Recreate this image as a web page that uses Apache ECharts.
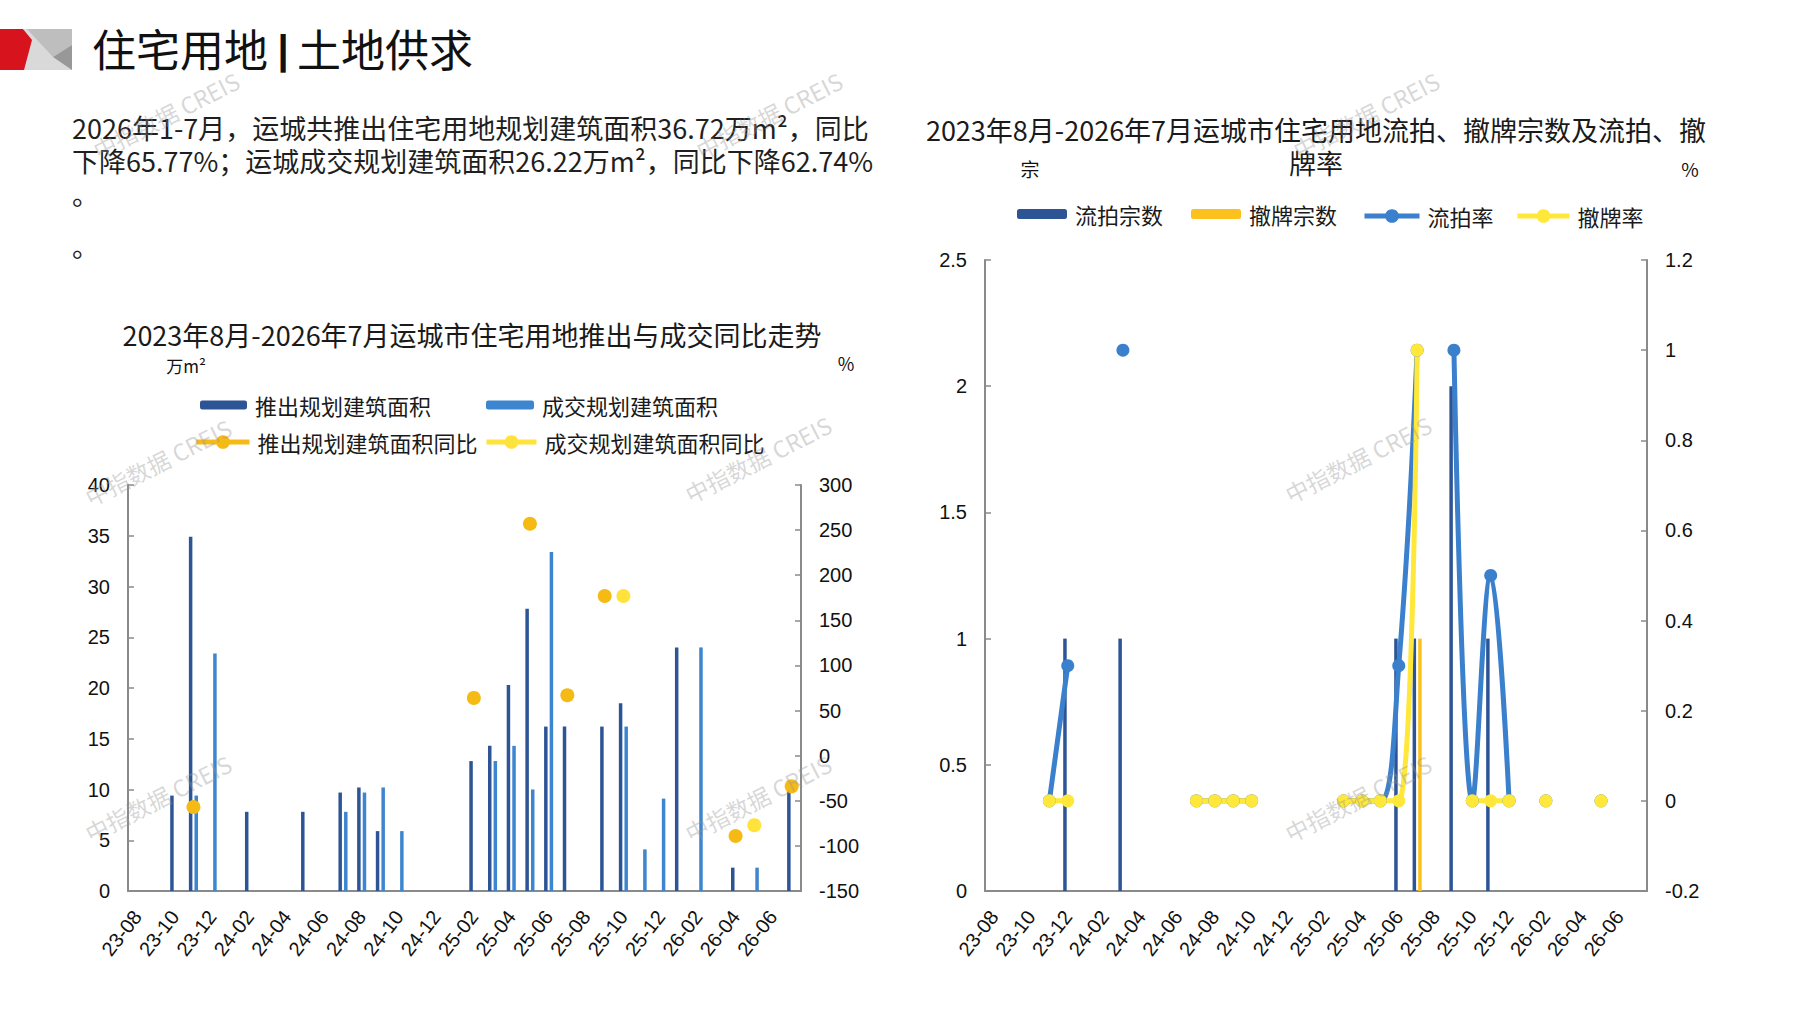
<!DOCTYPE html>
<html><head><meta charset="utf-8">
<script src="https://cdn.jsdelivr.net/npm/echarts@6/dist/echarts.min.js"></script>
<style>html,body{margin:0;padding:0;background:#fff}#c{width:1797px;height:1010px}</style>
</head><body><div id="c"></div>
<script>
const months = ['23-08','23-09','23-10','23-11','23-12','24-01','24-02','24-03','24-04','24-05','24-06','24-07',
  '24-08','24-09','24-10','24-11','24-12','25-01','25-02','25-03','25-04','25-05','25-06','25-07',
  '25-08','25-09','25-10','25-11','25-12','26-01','26-02','26-03','26-04','26-05','26-06','26-07'];
// 左图：推出/成交规划建筑面积（万m²）
const launchArea = [null,null,9.4,34.9,null,null,7.8,null,null,7.8,null,9.7,10.2,5.9,null,null,null,null,
  12.8,14.3,20.3,27.8,16.2,16.2,null,16.2,18.5,null,null,24.0,null,null,2.3,null,null,10.0];
const dealArea = [null,null,null,9.4,23.4,null,null,null,null,null,null,7.8,9.7,10.2,5.9,null,null,null,
  null,12.8,14.3,10.0,33.4,null,null,null,16.2,4.1,9.1,null,24.0,null,null,2.3,null,null];
// 同比（%）
const launchYoY = [null,null,null,-57,null,null,null,null,null,null,null,null,null,null,null,null,null,null,
  64,null,null,257,null,67,null,177,null,null,null,null,null,null,-89,null,null,-34];
const dealYoY = [null,null,null,null,null,null,null,null,null,null,null,null,null,null,null,null,null,null,
  null,null,null,null,null,null,null,null,177,null,null,null,null,null,null,-77,null,null];
// 右图：流拍/撤牌宗数（宗）与比率
const failCount = [null,null,null,null,1,null,null,1,null,null,null,null,null,null,null,null,null,null,
  null,null,null,null,1,1,null,2,null,1,null,null,null,null,null,null,null,null];
const withdrawCount = [null,null,null,null,null,null,null,null,null,null,null,null,null,null,null,null,null,null,
  null,null,null,null,null,1,null,null,null,null,null,null,null,null,null,null,null,null];
const failRate = [null,null,null,0,0.3,null,null,1,null,null,null,0,0,0,0,null,null,null,
  null,0,0,0,0.3,1,null,1,0,0.5,0,null,0,null,null,0,null,null];
const withdrawRate = [null,null,null,0,0,null,null,null,null,null,null,0,0,0,0,null,null,null,
  null,0,0,0,0,1,null,null,0,0,0,null,0,null,null,0,null,null];
const leftTicks = {min:0,max:40,interval:5};
const leftRightTicks = {min:-150,max:300,interval:50};
const rightTicks = {min:0,max:2.5,interval:0.5};
const rightRightTicks = {min:-0.2,max:1.2,interval:0.2};

const CJK = '"Noto Sans CJK SC","Noto Sans",sans-serif';
const NUM = '"Liberation Sans",Arial,sans-serif';
const C = {dark:'#2D5596', light:'#3D86CF', orange:'#F6BA14', yellow:'#FFE23C',
  fail:'#2D5596', wd:'#FCC11C', failRate:'#3A80CC', wdRate:'#FFE83A'};

const chart = echarts.init(document.getElementById('c'), null, {renderer:'svg'});
const axLine = {lineStyle:{color:'#8a8a8a', width:2}};
const axTick = {inside:true, length:6, lineStyle:{color:'#8a8a8a', width:1.5}};
const yLabel = {color:'#111', fontSize:20, fontFamily:NUM, margin:18};
function xAxis(g){
  return {type:'category', gridIndex:g, data:months, boundaryGap:true,
    axisLine:axLine, axisTick:Object.assign({interval:0}, axTick),
    axisLabel:{interval:1, rotate:52, margin:22, color:'#111', fontSize:20, fontFamily:NUM},
    splitLine:{show:false}};
}
function yAxis(g, t, pos){
  return Object.assign({type:'value', gridIndex:g, position:pos, axisLine:Object.assign({show:true}, axLine),
    axisTick:Object.assign({show:true}, axTick), axisLabel:yLabel, splitLine:{show:false}}, t);
}
const legText = {fontSize:22, fontFamily:CJK, color:'#1a1a1a', padding:[0,0,0,3]};
function leg(name, left, top, w, h){
  return {data:[name], left:left, top:top, padding:0, itemWidth:w, itemHeight:h,
    lineStyle:{width:5}, textStyle:legText, selectedMode:false};
}
const wm = [[166,115],[769,115],[1366,115],[158,462],[758,459],[1358,459],[158,798],[758,798],[1358,798]];

chart.setOption({
  animation:false,
  backgroundColor:'#fff',
  title:[
    {text:'2023年8月-2026年7月运城市住宅用地推出与成交同比走势', left:472, top:318, textAlign:'center', padding:0,
      textStyle:{fontSize:27, fontWeight:'normal', fontFamily:CJK, color:'#1a1a1a', lineHeight:33}},
    {text:'2023年8月-2026年7月运城市住宅用地流拍、撤牌宗数及流拍、撤\n牌率', left:1316, top:113, textAlign:'center', padding:0,
      textStyle:{fontSize:27, fontWeight:'normal', fontFamily:CJK, color:'#1a1a1a', lineHeight:33}}
  ],
  legend:[
    leg('推出规划建筑面积', 200, 394, 47, 9),
    leg('成交规划建筑面积', 486, 394, 48, 9),
    leg('推出规划建筑面积同比', 194, 431, 53, 17),
    leg('成交规划建筑面积同比', 484, 431, 50, 17),
    leg('流拍宗数', 1017, 203, 50, 10),
    leg('撤牌宗数', 1191, 203, 50, 10),
    leg('流拍率', 1362, 205, 55, 17),
    leg('撤牌率', 1515, 205, 52, 17)
  ],
  grid:[
    {left:128, right:996, top:485, bottom:119},
    {left:985, right:150, top:260, bottom:119}
  ],
  xAxis:[xAxis(0), xAxis(1)],
  yAxis:[yAxis(0, leftTicks, 'left'), yAxis(0, leftRightTicks, 'right'),
         yAxis(1, rightTicks, 'left'), yAxis(1, rightRightTicks, 'right')],
  series:[
    {name:'推出规划建筑面积', type:'bar', xAxisIndex:0, yAxisIndex:0, data:launchArea, barWidth:3.5, barGap:'60%',
      itemStyle:{color:C.dark}},
    {name:'成交规划建筑面积', type:'bar', xAxisIndex:0, yAxisIndex:0, data:dealArea, barWidth:3.5, barGap:'60%',
      itemStyle:{color:C.light}},
    {name:'推出规划建筑面积同比', type:'line', xAxisIndex:0, yAxisIndex:1, data:launchYoY, symbol:'circle', symbolSize:14,
      showAllSymbol:true, connectNulls:false, itemStyle:{color:C.orange}, lineStyle:{color:C.orange, width:5}},
    {name:'成交规划建筑面积同比', type:'line', xAxisIndex:0, yAxisIndex:1, data:dealYoY, symbol:'circle', symbolSize:14,
      showAllSymbol:true, connectNulls:false, itemStyle:{color:C.yellow}, lineStyle:{color:C.yellow, width:5}},
    {name:'流拍宗数', type:'bar', xAxisIndex:1, yAxisIndex:2, data:failCount, barWidth:3.5, barGap:'60%',
      itemStyle:{color:C.fail}},
    {name:'撤牌宗数', type:'bar', xAxisIndex:1, yAxisIndex:2, data:withdrawCount, barWidth:3.5, barGap:'60%',
      itemStyle:{color:C.wd}},
    {name:'流拍率', type:'line', xAxisIndex:1, yAxisIndex:3, data:failRate, symbol:'circle', symbolSize:13,
      showAllSymbol:true, smooth:0.4, connectNulls:false, itemStyle:{color:C.failRate}, lineStyle:{color:C.failRate, width:5}},
    {name:'撤牌率', type:'line', xAxisIndex:1, yAxisIndex:3, data:withdrawRate, symbol:'circle', symbolSize:13,
      showAllSymbol:true, smooth:0.4, connectNulls:false, itemStyle:{color:C.wdRate}, lineStyle:{color:C.wdRate, width:5}}
  ],
  graphic:[
    {type:'polygon', shape:{points:[[24,29],[72,29],[72,70],[24,70]]}, style:{fill:'#D9D9D9'}},
    {type:'polygon', shape:{points:[[27,29],[72,29],[72,45],[53,57]]}, style:{fill:'#BEBEBE'}},
    {type:'polygon', shape:{points:[[53,57],[72,45],[72,70]]}, style:{fill:'#989898'}},
    {type:'polygon', shape:{points:[[0,29],[23,29],[32,40],[24,70],[0,70]]}, style:{fill:'#D7141D'}},
    {type:'text', left:92, top:26, style:{text:'住宅用地', fontSize:44, fontFamily:CJK, fill:'#111'}},
    {type:'text', x:283, y:50, style:{text:'|', fontSize:40, fontWeight:'bold', fontFamily:NUM, fill:'#111', textAlign:'center', textVerticalAlign:'middle'}},
    {type:'text', left:297, top:26, style:{text:'土地供求', fontSize:44, fontFamily:CJK, fill:'#111'}},
    {type:'text', x:72, y:111, style:{text:'2026年1-7月，运城共推出住宅用地规划建筑面积36.72万m²，同比\n下降65.77%；运城成交规划建筑面积26.22万m²，同比下降62.74%',
      fontSize:27, lineHeight:33, fontFamily:CJK, fill:'#1f1f1f', textVerticalAlign:'top'}},
    {type:'text', x:72, y:193, style:{text:'。', fontSize:27, fontFamily:CJK, fill:'#1f1f1f', textVerticalAlign:'middle'}},
    {type:'text', x:72, y:245, style:{text:'。', fontSize:27, fontFamily:CJK, fill:'#1f1f1f', textVerticalAlign:'middle'}},
    {type:'text', x:186, y:365, style:{text:'万m²', fontSize:17, fontFamily:CJK, fill:'#111', textAlign:'center', textVerticalAlign:'middle'}},
    {type:'text', x:846, y:363, style:{text:'%', fontSize:18, fontFamily:CJK, fill:'#111', textAlign:'center', textVerticalAlign:'middle'}},
    {type:'text', x:1030, y:168, style:{text:'宗', fontSize:19, fontFamily:CJK, fill:'#111', textAlign:'center', textVerticalAlign:'middle'}},
    {type:'text', x:1690, y:168, style:{text:'%', fontSize:19, fontFamily:CJK, fill:'#111', textAlign:'center', textVerticalAlign:'middle'}}
  ].concat(wm.map(p => ({type:'text', x:p[0], y:p[1], rotation:0.47, silent:true, z:100,
    style:{text:'中指数据 CREIS', fontSize:23, fontFamily:CJK, fill:'rgba(150,150,150,0.38)', textAlign:'center', textVerticalAlign:'middle'}})))
});
</script></body></html>
